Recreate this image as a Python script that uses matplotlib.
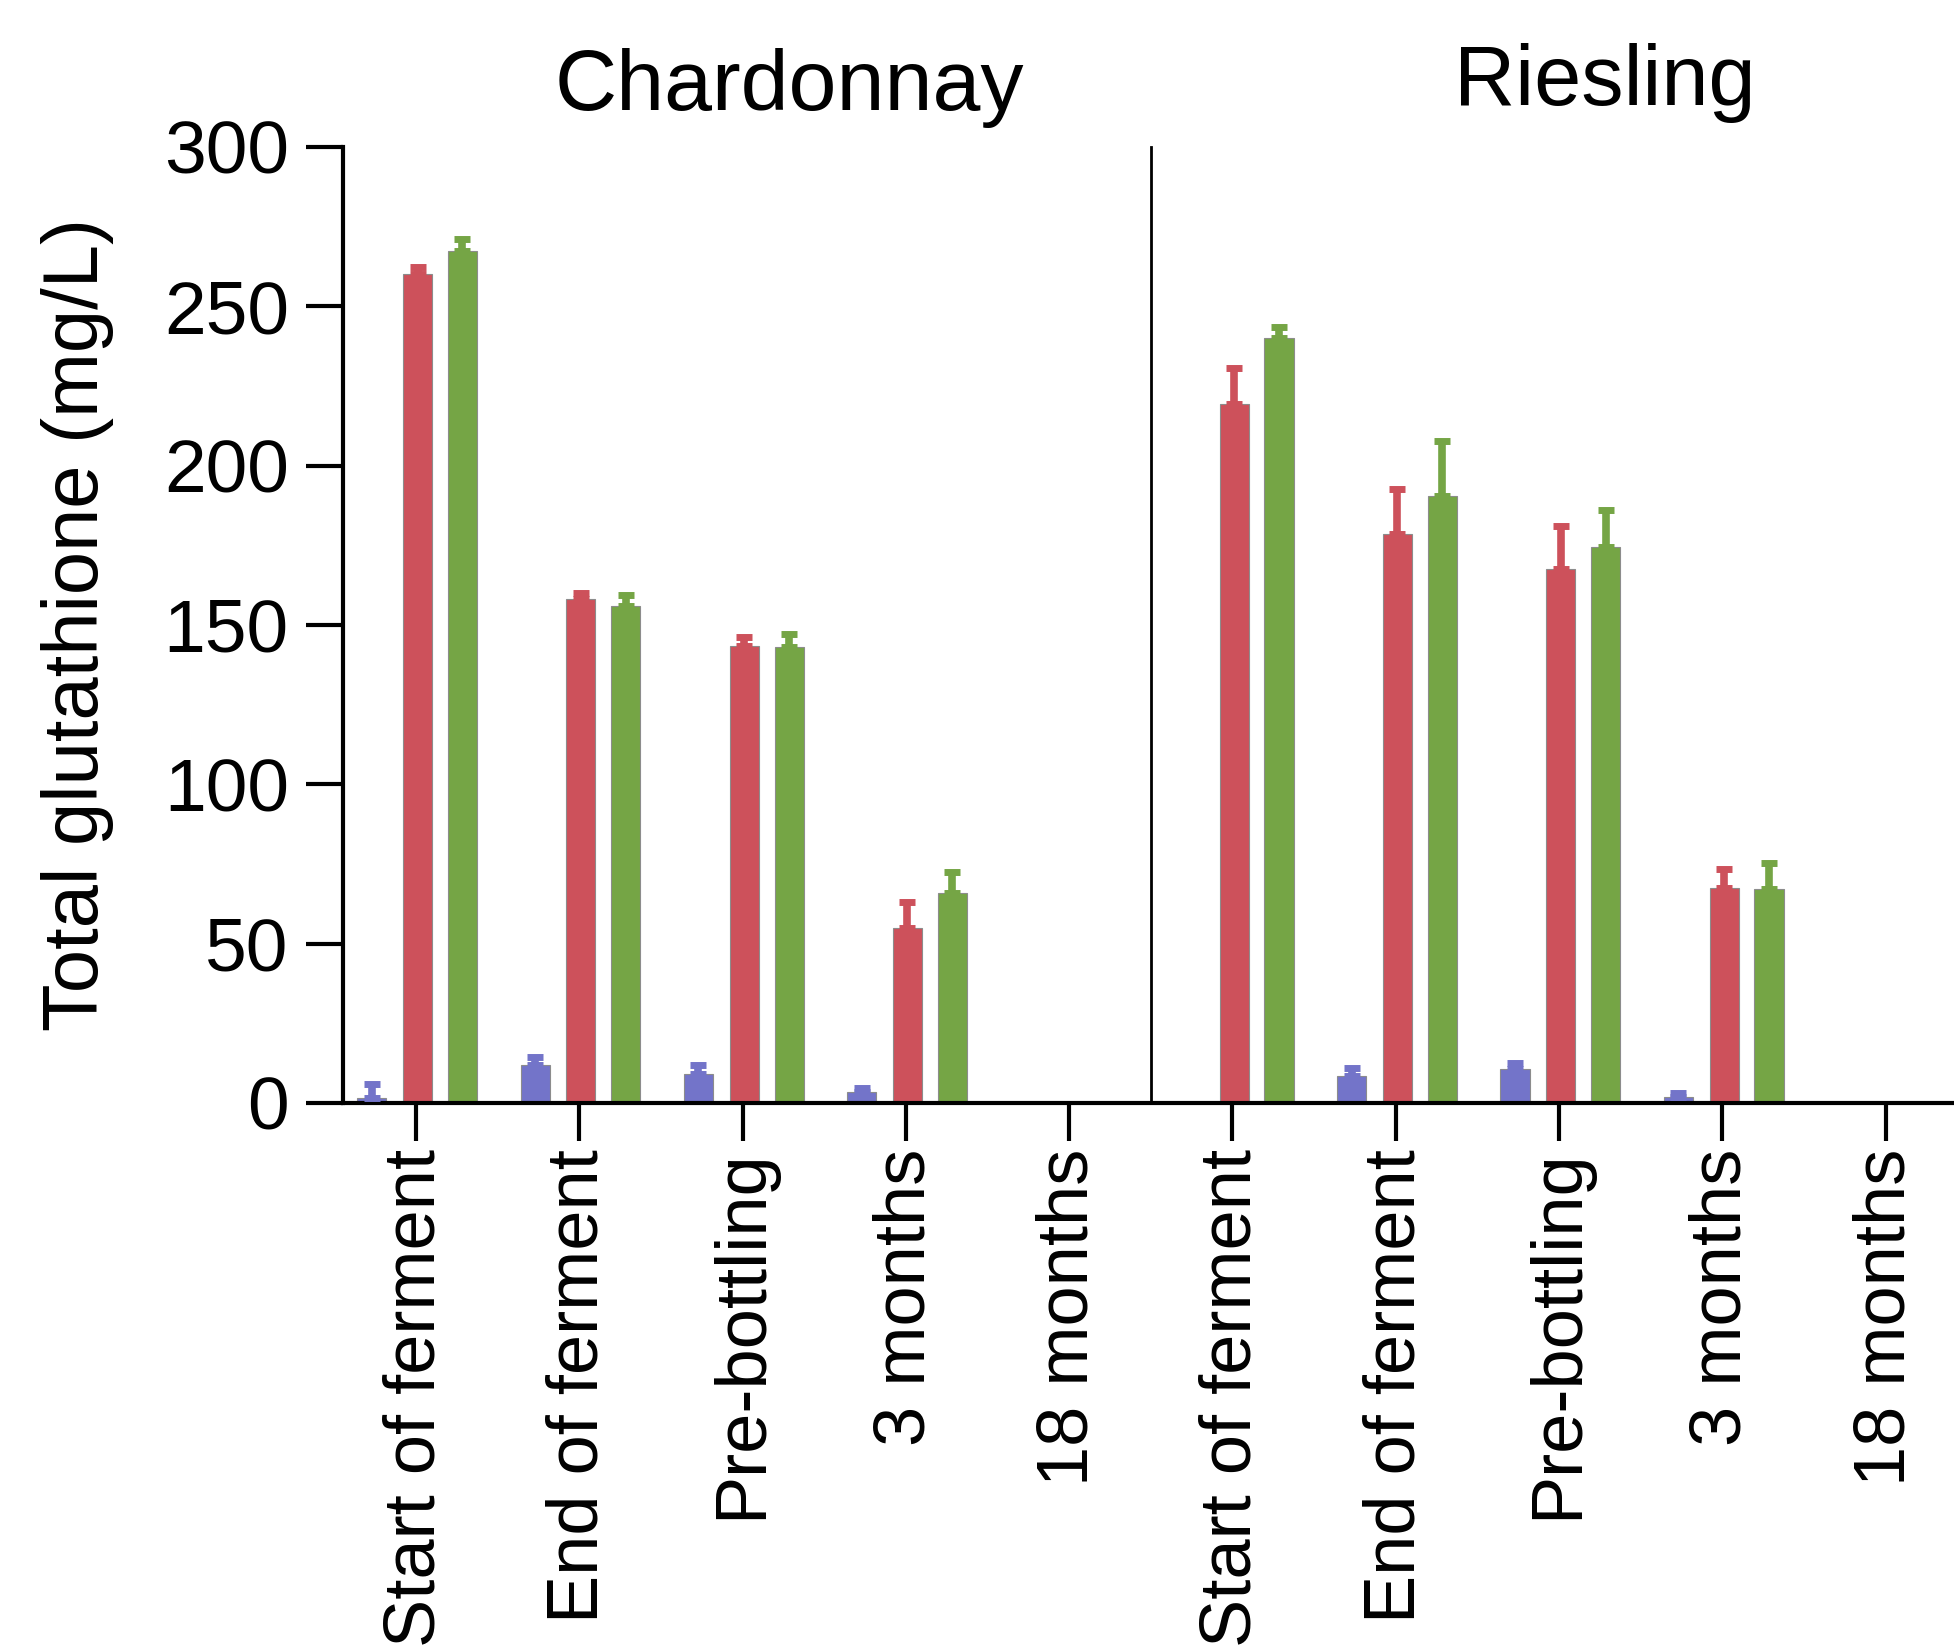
import numpy as np
import matplotlib.pyplot as plt

plt.rcParams['font.family'] = ['Liberation Sans', 'DejaVu Sans']

wines = ['Chardonnay', 'Riesling']
stages = ['Start of ferment', 'End of ferment', 'Pre-bottling', '3 months', '18 months']
nan = np.nan

# mean and upper error per stage, Chardonnay stages then Riesling stages
blue_mean = [1.5, 12, 9, 3.5, nan, nan, 8.5, 10.7, 2, nan]
blue_err = [4.5, 2.5, 3, 1.1, nan, nan, 2.4, 1.7, 1.2, nan]
red_mean = [260, 158, 143.5, 55, nan, 219.5, 178.5, 167.7, 67.4, nan]
red_err = [2.2, 2, 2.8, 8, nan, 11, 14.1, 13.3, 5.9, nan]
green_mean = [267.5, 156, 143, 66, nan, 240.2, 190.5, 174.6, 67, nan]
green_err = [3.5, 3.3, 4.2, 6.6, nan, 3.2, 17.1, 11.6, 8.3, nan]

colors = ['#7374c9', '#cd515b', '#75a545']
offsets = [-0.27, 0.01, 0.285]
bar_width = 0.178

fig = plt.figure(figsize=(19.54, 16.46), dpi=100)
ax = fig.add_axes([0.1755, 0.3299, 0.8245, 0.5808])

x = np.arange(len(stages) * len(wines))
series = [(blue_mean, blue_err), (red_mean, red_err), (green_mean, green_err)]
for (vals, errs), col, off in zip(series, colors, offsets):
    vals = np.array(vals, dtype=float)
    errs = np.array(errs, dtype=float)
    ax.bar(x + off, vals, bar_width, color=col, edgecolor='#8c8c8c', linewidth=0.8, zorder=2)
    ax.errorbar(x + off, vals, yerr=[np.zeros_like(errs), errs], fmt='none',
                ecolor=col, elinewidth=5.5, capsize=5.5, capthick=5, zorder=3)

# separator between the two wines
ax.plot([4.5, 4.5], [0, 300], color='black', lw=2, zorder=1, clip_on=False)

ax.set_xlim(-0.447, 9.418)
ax.set_ylim(0, 300)
ax.set_yticks(np.arange(0, 301, 50))
ax.set_xticks(x)
ax.set_xticklabels(stages * 2, rotation=90)
ax.tick_params(axis='both', length=27, width=3)
ax.tick_params(axis='x', pad=6, labelsize=52)
ax.tick_params(axis='y', pad=12, labelsize=54)

for side in ['top', 'right']:
    ax.spines[side].set_visible(False)
ax.spines['left'].set_linewidth(3)
ax.spines['bottom'].set_linewidth(3)

ax.set_ylabel('Total glutathione (mg/L)', fontsize=56)
ax.yaxis.set_label_coords(-0.142, 0.5)

fig.text(ax.transData.transform((2.284, 0))[0] / fig.bbox.width, 1 - 110 / 1646,
         wines[0], fontsize=62, ha='center', va='baseline')
fig.text(ax.transData.transform((7.278, 0))[0] / fig.bbox.width, 1 - 105 / 1646,
         wines[1], fontsize=61, ha='center', va='baseline')

fig.savefig('out.png', dpi=100)
